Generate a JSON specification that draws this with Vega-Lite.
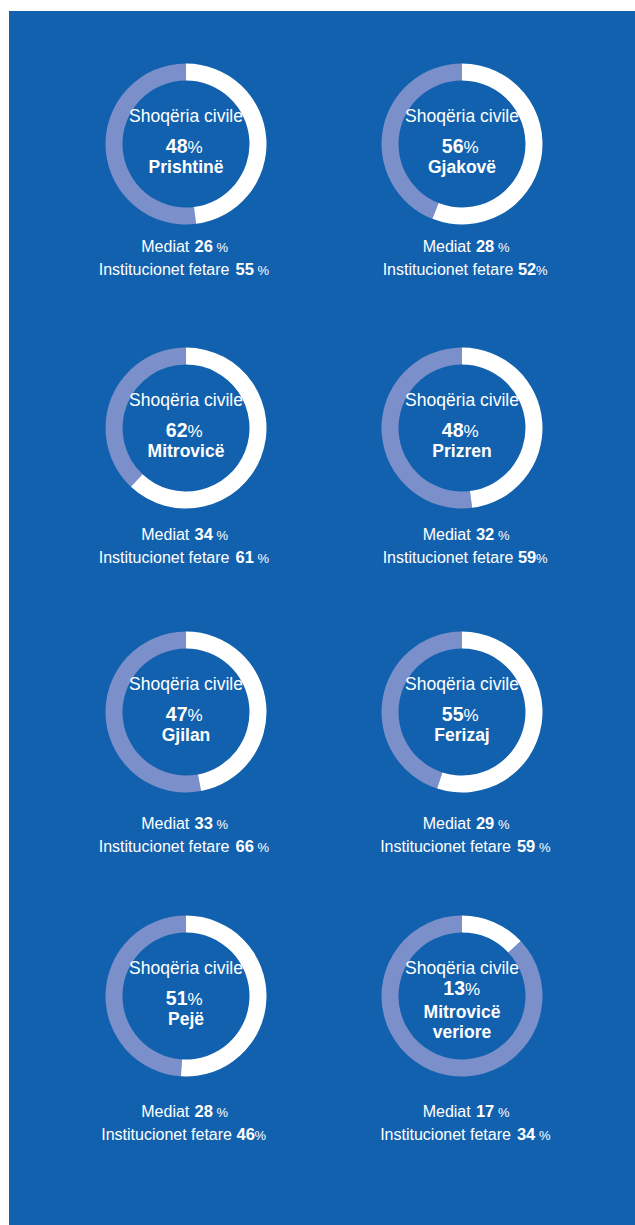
{
  "$schema": "https://vega.github.io/schema/vega-lite/v6.json",
  "width": 626,
  "height": 1214,
  "padding": {"left": 9, "top": 11, "right": 0, "bottom": 0},
  "autosize": {"type": "none"},
  "background": "#ffffff",
  "config": {
    "view": {"fill": "#1261AE", "stroke": null},
    "text": {"fill": "#ffffff", "baseline": "alphabetic", "font": "Liberation Sans"}
  },
  "data": {
    "values": [
      {"city": "Prishtinë", "name1": "Prishtinë", "name2": "", "lines": 1, "col": 0, "row": 0, "civile": 48, "mediat": 26, "fetare": 55, "tight": 0},
      {"city": "Gjakovë", "name1": "Gjakovë", "name2": "", "lines": 1, "col": 1, "row": 0, "civile": 56, "mediat": 28, "fetare": 52, "tight": 1},
      {"city": "Mitrovicë", "name1": "Mitrovicë", "name2": "", "lines": 1, "col": 0, "row": 1, "civile": 62, "mediat": 34, "fetare": 61, "tight": 0},
      {"city": "Prizren", "name1": "Prizren", "name2": "", "lines": 1, "col": 1, "row": 1, "civile": 48, "mediat": 32, "fetare": 59, "tight": 1},
      {"city": "Gjilan", "name1": "Gjilan", "name2": "", "lines": 1, "col": 0, "row": 2, "civile": 47, "mediat": 33, "fetare": 66, "tight": 0},
      {"city": "Ferizaj", "name1": "Ferizaj", "name2": "", "lines": 1, "col": 1, "row": 2, "civile": 55, "mediat": 29, "fetare": 59, "tight": 0},
      {"city": "Pejë", "name1": "Pejë", "name2": "", "lines": 1, "col": 0, "row": 3, "civile": 51, "mediat": 28, "fetare": 46, "tight": 1},
      {"city": "Mitrovicë veriore", "name1": "Mitrovicë", "name2": "veriore", "lines": 2, "col": 1, "row": 3, "civile": 13, "mediat": 17, "fetare": 34, "tight": 0}
    ]
  },
  "resolve": {"scale": {"x": "independent", "y": "independent"}},
  "layer": [
    {
      "layer": [
        {
          "mark": {"type": "arc", "innerRadius": 63.5, "outerRadius": 80.5, "fill": "#7B8FCA"},
          "encoding": {
            "x": {"field": "col", "type": "quantitative", "scale": {"domain": [-0.6413, 1.6268], "nice": false, "zero": false}, "axis": null},
            "y": {"field": "row", "type": "quantitative", "scale": {"domain": [-0.4683, 3.8063], "nice": false, "zero": false, "reverse": true}, "axis": null},
            "theta": {"field": "civile", "type": "quantitative", "stack": null, "scale": {"domain": [0, 100]}},
            "theta2": {"datum": 100}
          }
        },
        {
          "mark": {"type": "arc", "innerRadius": 63.5, "outerRadius": 80.5, "fill": "#ffffff"},
          "encoding": {
            "x": {"field": "col", "type": "quantitative", "axis": null},
            "y": {"field": "row", "type": "quantitative", "axis": null},
            "theta": {"field": "civile", "type": "quantitative", "stack": null, "scale": {"domain": [0, 100]}},
            "theta2": {"datum": 0}
          }
        },
        {
          "mark": {"type": "text", "fontSize": 17.5, "align": "center", "dy": -22},
          "encoding": {
            "x": {"field": "col", "type": "quantitative", "axis": null},
            "y": {"field": "row", "type": "quantitative", "axis": null},
            "text": {"value": "Shoqëria civile"}
          }
        },
        {
          "transform": [{"filter": "datum.lines == 1"}],
          "layer": [
            {
              "mark": {"type": "text", "fontWeight": "bold", "fontSize": 19.5, "align": "right", "dx": 1.5, "dy": 9},
              "encoding": {
                "x": {"field": "col", "type": "quantitative", "axis": null},
                "y": {"field": "row", "type": "quantitative", "axis": null},
                "text": {"field": "civile"}
              }
            },
            {
              "mark": {"type": "text", "fontSize": 17, "align": "left", "dx": 1.5, "dy": 9},
              "encoding": {
                "x": {"field": "col", "type": "quantitative", "axis": null},
                "y": {"field": "row", "type": "quantitative", "axis": null},
                "text": {"value": "%"}
              }
            },
            {
              "mark": {"type": "text", "fontWeight": "bold", "fontSize": 17.5, "align": "center", "dy": 29},
              "encoding": {
                "x": {"field": "col", "type": "quantitative", "axis": null},
                "y": {"field": "row", "type": "quantitative", "axis": null},
                "text": {"field": "name1"}
              }
            }
          ]
        },
        {
          "transform": [{"filter": "datum.lines == 2"}],
          "layer": [
            {
              "mark": {"type": "text", "fontWeight": "bold", "fontSize": 19.5, "align": "right", "dx": 3, "dy": -1},
              "encoding": {
                "x": {"field": "col", "type": "quantitative", "axis": null},
                "y": {"field": "row", "type": "quantitative", "axis": null},
                "text": {"field": "civile"}
              }
            },
            {
              "mark": {"type": "text", "fontSize": 17, "align": "left", "dx": 3, "dy": -1},
              "encoding": {
                "x": {"field": "col", "type": "quantitative", "axis": null},
                "y": {"field": "row", "type": "quantitative", "axis": null},
                "text": {"value": "%"}
              }
            },
            {
              "mark": {"type": "text", "fontWeight": "bold", "fontSize": 17.5, "align": "center", "dy": 22},
              "encoding": {
                "x": {"field": "col", "type": "quantitative", "axis": null},
                "y": {"field": "row", "type": "quantitative", "axis": null},
                "text": {"field": "name1"}
              }
            },
            {
              "mark": {"type": "text", "fontWeight": "bold", "fontSize": 17.5, "align": "center", "dy": 42},
              "encoding": {
                "x": {"field": "col", "type": "quantitative", "axis": null},
                "y": {"field": "row", "type": "quantitative", "axis": null},
                "text": {"field": "name2"}
              }
            }
          ]
        }
      ]
    },
    {
      "layer": [
        {
          "mark": {"type": "text", "fontSize": 16, "align": "right", "dx": 3.3},
          "encoding": {
            "x": {"field": "col", "type": "quantitative", "scale": {"domain": [-0.629, 1.5956], "nice": false, "zero": false}, "axis": null},
            "y": {"field": "row", "type": "quantitative", "scale": {"domain": [-0.8359, 3.375], "nice": false, "zero": false, "reverse": true}, "axis": null},
            "text": {"value": "Mediat"}
          }
        },
        {
          "mark": {"type": "text", "fontWeight": "bold", "fontSize": 16.5, "align": "left", "dx": 8.5},
          "encoding": {
            "x": {"field": "col", "type": "quantitative", "axis": null},
            "y": {"field": "row", "type": "quantitative", "axis": null},
            "text": {"field": "mediat"}
          }
        },
        {
          "mark": {"type": "text", "fontSize": 13, "align": "left", "dx": 30.5},
          "encoding": {
            "x": {"field": "col", "type": "quantitative", "axis": null},
            "y": {"field": "row", "type": "quantitative", "axis": null},
            "text": {"value": "%"}
          }
        },
        {
          "transform": [{"filter": "datum.tight == 0"}],
          "layer": [
            {
              "mark": {"type": "text", "fontSize": 16, "align": "right", "dx": 43.5, "dy": 23},
              "encoding": {
                "x": {"field": "col", "type": "quantitative", "axis": null},
                "y": {"field": "row", "type": "quantitative", "axis": null},
                "text": {"value": "Institucionet fetare"}
              }
            },
            {
              "mark": {"type": "text", "fontWeight": "bold", "fontSize": 16.5, "align": "left", "dx": 49.5, "dy": 23},
              "encoding": {
                "x": {"field": "col", "type": "quantitative", "axis": null},
                "y": {"field": "row", "type": "quantitative", "axis": null},
                "text": {"field": "fetare"}
              }
            },
            {
              "mark": {"type": "text", "fontSize": 13, "align": "left", "dx": 71.5, "dy": 23},
              "encoding": {
                "x": {"field": "col", "type": "quantitative", "axis": null},
                "y": {"field": "row", "type": "quantitative", "axis": null},
                "text": {"value": "%"}
              }
            }
          ]
        },
        {
          "transform": [{"filter": "datum.tight == 1"}],
          "layer": [
            {
              "mark": {"type": "text", "fontSize": 16, "align": "right", "dx": 46, "dy": 23},
              "encoding": {
                "x": {"field": "col", "type": "quantitative", "axis": null},
                "y": {"field": "row", "type": "quantitative", "axis": null},
                "text": {"value": "Institucionet fetare"}
              }
            },
            {
              "mark": {"type": "text", "fontWeight": "bold", "fontSize": 16.5, "align": "left", "dx": 50.5, "dy": 23},
              "encoding": {
                "x": {"field": "col", "type": "quantitative", "axis": null},
                "y": {"field": "row", "type": "quantitative", "axis": null},
                "text": {"field": "fetare"}
              }
            },
            {
              "mark": {"type": "text", "fontSize": 13, "align": "left", "dx": 68.5, "dy": 23},
              "encoding": {
                "x": {"field": "col", "type": "quantitative", "axis": null},
                "y": {"field": "row", "type": "quantitative", "axis": null},
                "text": {"value": "%"}
              }
            }
          ]
        }
      ]
    }
  ]
}
